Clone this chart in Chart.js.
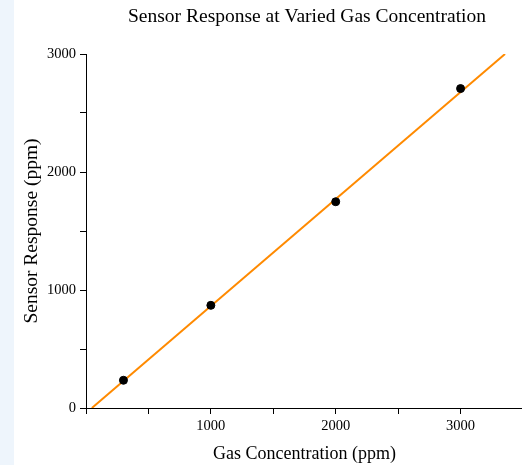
<!DOCTYPE html>
<html>
<head>
<meta charset="utf-8">
<script src="https://cdn.jsdelivr.net/npm/chart.js@4"></script>
<style>
  html, body { margin: 0; padding: 0; overflow: hidden; }
  body { width: 522px; height: 465px; background: linear-gradient(to right, #eef5fc 0, #eef5fc 14px, #ffffff 14px); }
  #wrap { position: relative; width: 522px; height: 465px; overflow: hidden; }
</style>
</head>
<body>
<div id="wrap"><canvas id="myChart" width="528" height="465"></canvas></div>
<script>
// measured points
var gasConc = [300, 1000, 2000, 3000];
var sensorResp = [235, 870, 1748, 2707];
// fitted line, read where it crosses the plot edges
var fitX = [47, 3356];
var fitY = [0, 3000];

var xTicks = [1000, 2000, 3000];
var yTicks = [0, 1000, 2000, 3000];

var titleText = 'Sensor Response at Varied Gas Concentration';
var serif = '"Liberation Serif", "Times New Roman", serif';

var titlePlugin = {
  id: 'plotTitle',
  afterDraw: function (chart) {
    var ctx = chart.ctx;
    ctx.save();
    ctx.font = '19.5px ' + serif;
    ctx.fillStyle = '#000';
    ctx.textAlign = 'center';
    ctx.textBaseline = 'middle';
    ctx.fillText(titleText, 307, 17);
    ctx.restore();
  }
};

function pts(xs, ys) {
  var out = [];
  for (var i = 0; i < xs.length; i++) out.push({ x: xs[i], y: ys[i] });
  return out;
}

function majorOnly(list) {
  return function (value) {
    return list.indexOf(value) >= 0 ? String(value) : '';
  };
}

var ctx = document.getElementById('myChart');
var myChart = new Chart(ctx, {
  type: 'scatter',
  data: {
    datasets: [{
      label: 'Fit',
      data: pts(fitX, fitY),
      showLine: true,
      borderColor: '#ff8a00',
      borderWidth: 2,
      pointRadius: 0,
      order: 2
    }, {
      label: 'Data',
      data: pts(gasConc, sensorResp),
      backgroundColor: '#000',
      borderColor: '#000',
      pointRadius: 4,
      order: 1
    }]
  },
  options: {
    responsive: false,
    animation: false,
    layout: { padding: { top: 54, left: 14, right: 0, bottom: 0 } },
    plugins: {
      legend: { display: false },
      tooltip: { enabled: false },
      title: { display: false }
    },
    scales: {
      x: {
        type: 'linear',
        min: 0,
        max: 3500,
        afterFit: function (s) { s.height = 57; },
        ticks: {
          stepSize: 500,
          autoSkip: false,
          maxRotation: 0,
          padding: 3,
          color: '#000',
          font: { family: serif, size: 14.5 },
          callback: majorOnly(xTicks)
        },
        grid: { drawOnChartArea: false, tickLength: 6, color: '#000' },
        border: { display: true, color: '#000', width: 1 },
        title: {
          display: true,
          text: 'Gas Concentration (ppm)',
          color: '#000',
          font: { family: serif, size: 18 },
          padding: { top: 3, bottom: 0 }
        }
      },
      y: {
        min: 0,
        max: 3000,
        afterFit: function (s) { s.width = 72; },
        ticks: {
          stepSize: 500,
          autoSkip: false,
          padding: 4,
          color: '#000',
          font: { family: serif, size: 14.5 },
          callback: majorOnly(yTicks)
        },
        grid: { drawOnChartArea: false, tickLength: 6, color: '#000' },
        border: { display: true, color: '#000', width: 1 },
        title: {
          display: true,
          text: 'Sensor Response (ppm)',
          color: '#000',
          font: { family: serif, size: 19.5 },
          padding: { top: 6, bottom: 6 }
        }
      }
    }
  },
  plugins: [titlePlugin]
});
</script>
</body>
</html>
